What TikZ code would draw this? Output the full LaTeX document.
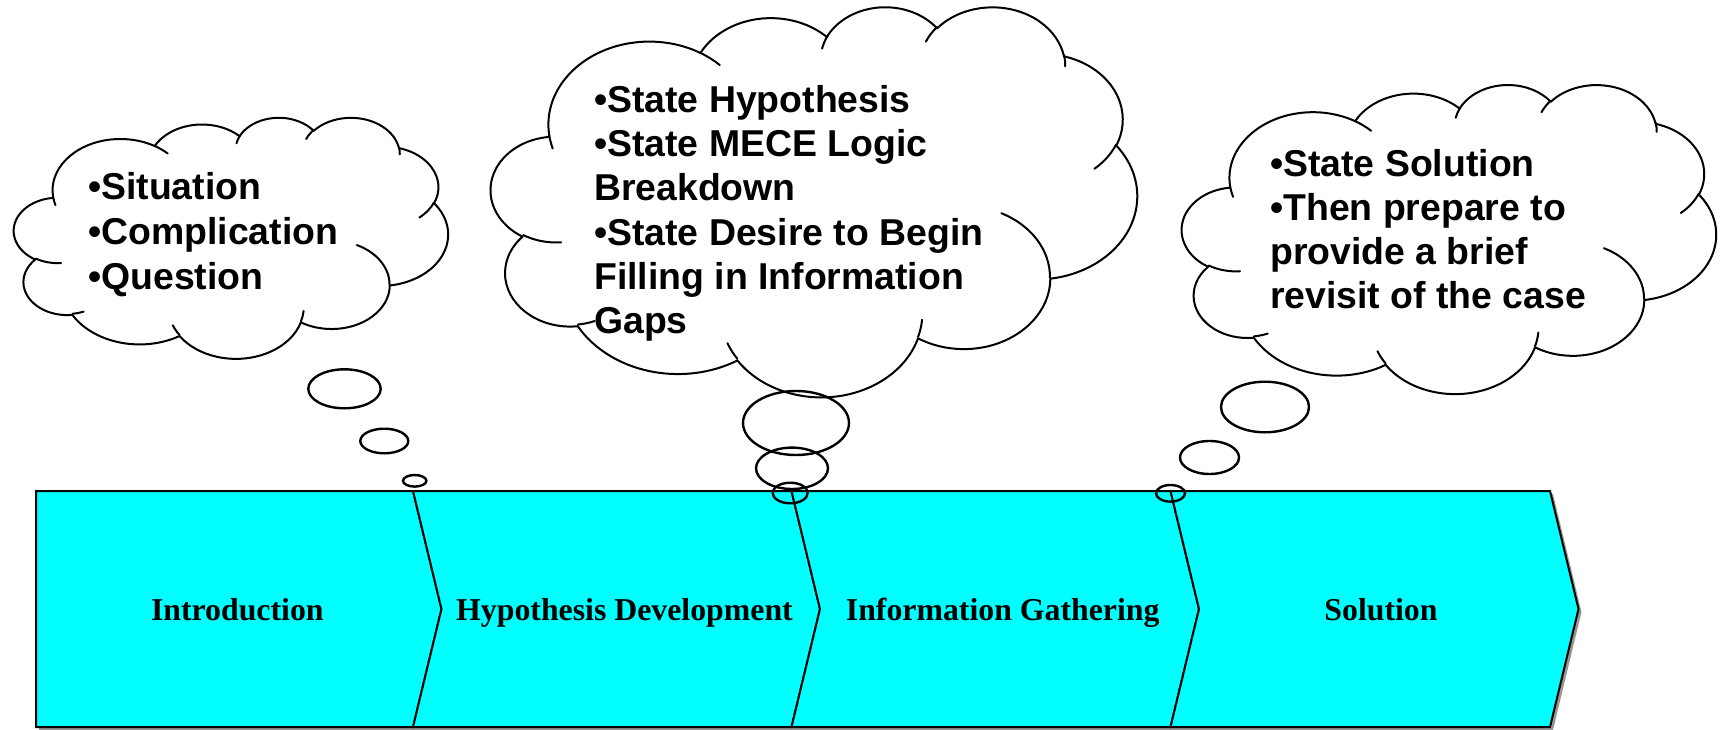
\documentclass[tikz,border=0pt]{standalone}
\usepackage{fontspec}
\setmainfont{Liberation Serif}
\newfontfamily\cloudfont{Liberation Sans}
\definecolor{bandcyan}{RGB}{0,255,255}
\definecolor{shadowgray}{RGB}{150,150,150}

% parametric start angle and sweep of an OOXML arc (visual angles)
\newcommand\clmk[5]{%
  \pgfmathsetmacro\clTs{atan2((#2)*sin(#4),(#3)*cos(#4))}%
  \pgfmathsetmacro\clTe{atan2((#2)*sin((#4)+(#5)),(#3)*cos((#4)+(#5)))}%
  \pgfmathsetmacro\clTd{mod(\clTe-\clTs+720,360)}%
  \expandafter\xdef\csname clS#1\endcsname{\clTs}%
  \expandafter\xdef\csname clD#1\endcsname{\clTd}%
}
\clmk{a}{67.53}{91.90}{-190.48748}{123.78053}
\clmk{b}{53.33}{72.67}{-144.10238}{89.94523}
\clmk{c}{43.65}{59.45}{-145.80792}{99.72302}
\clmk{d}{48.57}{65.95}{-130.98607}{117.24173}
\clmk{e}{53.33}{72.73}{-78.70888}{109.02692}
\clmk{f}{67.75}{92.20}{-46.26725}{130.269}
\clmk{g}{57.85}{78.67}{0.62502}{114.03333}
\clmk{h}{67.52}{92.15}{22.4516}{115.17255}
\clmk{i}{77.20}{105.43}{66.24263}{75.71102}
\clmk{j}{43.60}{59.18}{-274.94208}{146.73557}
\clmk{k}{43.45}{59.45}{-246.8285}{152.51885}
\clmk{ia}{43.45}{59.45}{86.742}{26.4295}
\clmk{ib}{43.60}{59.18}{73.61047}{11.44747}
\clmk{ic}{67.52}{92.15}{137.62415}{14.0811}
\clmk{id}{67.52}{92.15}{6.45327}{15.99835}
\clmk{ie}{57.85}{78.67}{-70.29235}{70.91737}
\clmk{if}{53.33}{72.73}{30.31803}{27.7515}
\clmk{ig}{48.57}{65.95}{-13.74433}{14.8589}
\clmk{ih}{48.57}{65.95}{-149.18145}{18.19537}
\clmk{ii}{43.65}{59.45}{-163.49427}{17.68635}
\clmk{ij}{67.53}{91.90}{-66.70695}{12.31935}
\clmk{ik}{67.53}{91.90}{157.65435}{11.85817}

\tikzset{
  bandseg/.style={draw=black, line width=2pt, fill=bandcyan, line join=miter},
  bandshadow/.style={fill=shadowgray, draw=none},
  cloudline/.style={draw=black, line width=2pt, line join=round, line cap=round},
  tailline/.style={draw=black, line width=2.4pt},
  bandlabel/.style={font=\bfseries\fontsize{31.8}{38}\selectfont, anchor=base, inner sep=0pt},
  cloudtext/.style={font=\cloudfont\bfseries\fontsize{37.4}{44}\selectfont, anchor=base west, inner sep=0pt},
}

\newcommand\drawcloud[4]{%
  \pgfmathsetmacro\clw{#3/432}%
  \pgfmathsetmacro\clh{#4/432}%
  \begin{scope}[shift={(#1,#2)},x=\clw pt,y=-\clh pt]
    \draw[cloudline] (39.00,143.70)
      arc[start angle=\clSa, delta angle=\clDa, x radius=67.53, y radius=91.90]
      arc[start angle=\clSb, delta angle=\clDb, x radius=53.33, y radius=72.67]
      arc[start angle=\clSc, delta angle=\clDc, x radius=43.65, y radius=59.45]
      arc[start angle=\clSd, delta angle=\clDd, x radius=48.57, y radius=65.95]
      arc[start angle=\clSe, delta angle=\clDe, x radius=53.33, y radius=72.73]
      arc[start angle=\clSf, delta angle=\clDf, x radius=67.75, y radius=92.20]
      arc[start angle=\clSg, delta angle=\clDg, x radius=57.85, y radius=78.67]
      arc[start angle=\clSh, delta angle=\clDh, x radius=67.52, y radius=92.15]
      arc[start angle=\clSi, delta angle=\clDi, x radius=77.20, y radius=105.43]
      arc[start angle=\clSj, delta angle=\clDj, x radius=43.60, y radius=59.18]
      arc[start angle=\clSk, delta angle=\clDk, x radius=43.45, y radius=59.45]
      -- cycle;
    \draw[cloudline]
      (46.93,261.77) arc[start angle=\clSia, delta angle=\clDia, x radius=43.45, y radius=59.45]
      (69.28,348.99) arc[start angle=\clSib, delta angle=\clDib, x radius=43.60, y radius=59.18]
      (164.78,390.90) arc[start angle=\clSic, delta angle=\clDic, x radius=67.52, y radius=92.15]
      (288.27,347.51) arc[start angle=\clSid, delta angle=\clDid, x radius=67.52, y radius=92.15]
      (341.29,229.54) arc[start angle=\clSie, delta angle=\clDie, x radius=57.85, y radius=78.67]
      (417.98,153.54) arc[start angle=\clSif, delta angle=\clDif, x radius=53.33, y radius=72.73]
      (383.24,54.26) arc[start angle=\clSig, delta angle=\clDig, x radius=48.57, y radius=65.95]
      (290.78,39.52) arc[start angle=\clSih, delta angle=\clDih, x radius=48.57, y radius=65.95]
      (221.41,47.20) arc[start angle=\clSii, delta angle=\clDii, x radius=43.65, y radius=59.45]
      (140.00,51.92) arc[start angle=\clSij, delta angle=\clDij, x radius=67.53, y radius=91.90]
      (41.27,157.89) arc[start angle=\clSik, delta angle=\clDik, x radius=67.53, y radius=91.90];
  \end{scope}}

\begin{document}
\begin{tikzpicture}[x=1pt,y=-1pt]
\useasboundingbox (0,0) rectangle (1721,730);

% shadow of the process band
\fill[bandshadow] (39,494) -- (1553,494) -- (1581.5,612) -- (1553,730) -- (39,730) -- cycle;

% chevron segments
\draw[bandseg] (36,491) -- (413,491) -- (441.5,609) -- (413,727) -- (36,727) -- cycle;
\draw[bandseg] (413,491) -- (791.5,491) -- (820,609) -- (791.5,727) -- (413,727) -- (441.5,609) -- cycle;
\draw[bandseg] (791.5,491) -- (1170.5,491) -- (1199,609) -- (1170.5,727) -- (791.5,727) -- (820,609) -- cycle;
\draw[bandseg] (1170.5,491) -- (1550,491) -- (1578.5,609) -- (1550,727) -- (1170.5,727) -- (1199,609) -- cycle;

\node[bandlabel] (lab1) at (237.3,620.7) {Introduction};
\node[bandlabel] (lab2) at (624.5,620.7) {Hypothesis Development};
\node[bandlabel] (lab3) at (1002.7,620.7) {Information Gathering};
\node[bandlabel] (lab4) at (1381,620.7) {Solution};

% clouds
\drawcloud{14}{117}{434}{241}
\drawcloud{491}{6}{646}{390}
\drawcloud{1182}{84}{534}{309}

% thought-bubble tails
\draw[tailline] (344.5,388.8) ellipse[x radius=36.2, y radius=19.5];
\draw[tailline] (384.3,441) ellipse[x radius=24, y radius=12.3];
\draw[tailline] (414.7,480.8) ellipse[x radius=11.7, y radius=5.8];

\draw[tailline] (796,423) ellipse[x radius=53, y radius=32];
\draw[tailline] (792,468.3) ellipse[x radius=36, y radius=20.7];
\draw[tailline] (790.2,493) ellipse[x radius=17.5, y radius=10.3];

\draw[tailline] (1265,407) ellipse[x radius=44, y radius=25.3];
\draw[tailline] (1209.5,457.5) ellipse[x radius=29.5, y radius=16.5];
\draw[tailline] (1170.5,493.3) ellipse[x radius=14.5, y radius=8.3];

% cloud texts
\node[cloudtext] (c1a) at (88,200) {•Situation};
\node[cloudtext] (c1b) at (88,244.5) {•Complication};
\node[cloudtext] (c1c) at (88,289) {•Question};

\node[cloudtext] (c2a) at (594,112.5) {•State Hypothesis};
\node[cloudtext] (c2b) at (594,156.7) {•State MECE Logic};
\node[cloudtext] (c2c) at (594,200.9) {Breakdown};
\node[cloudtext] (c2d) at (594,245.1) {•State Desire to Begin};
\node[cloudtext] (c2e) at (594,289.3) {Filling in Information};
\node[cloudtext] (c2f) at (594,333.5) {Gaps};

\node[cloudtext] (c3a) at (1270,176.7) {•State Solution};
\node[cloudtext] (c3b) at (1270,220.6) {•Then prepare to};
\node[cloudtext] (c3c) at (1270,264.5) {provide a brief};
\node[cloudtext] (c3d) at (1270,308.3) {revisit of the case};
\end{tikzpicture}
\end{document}
